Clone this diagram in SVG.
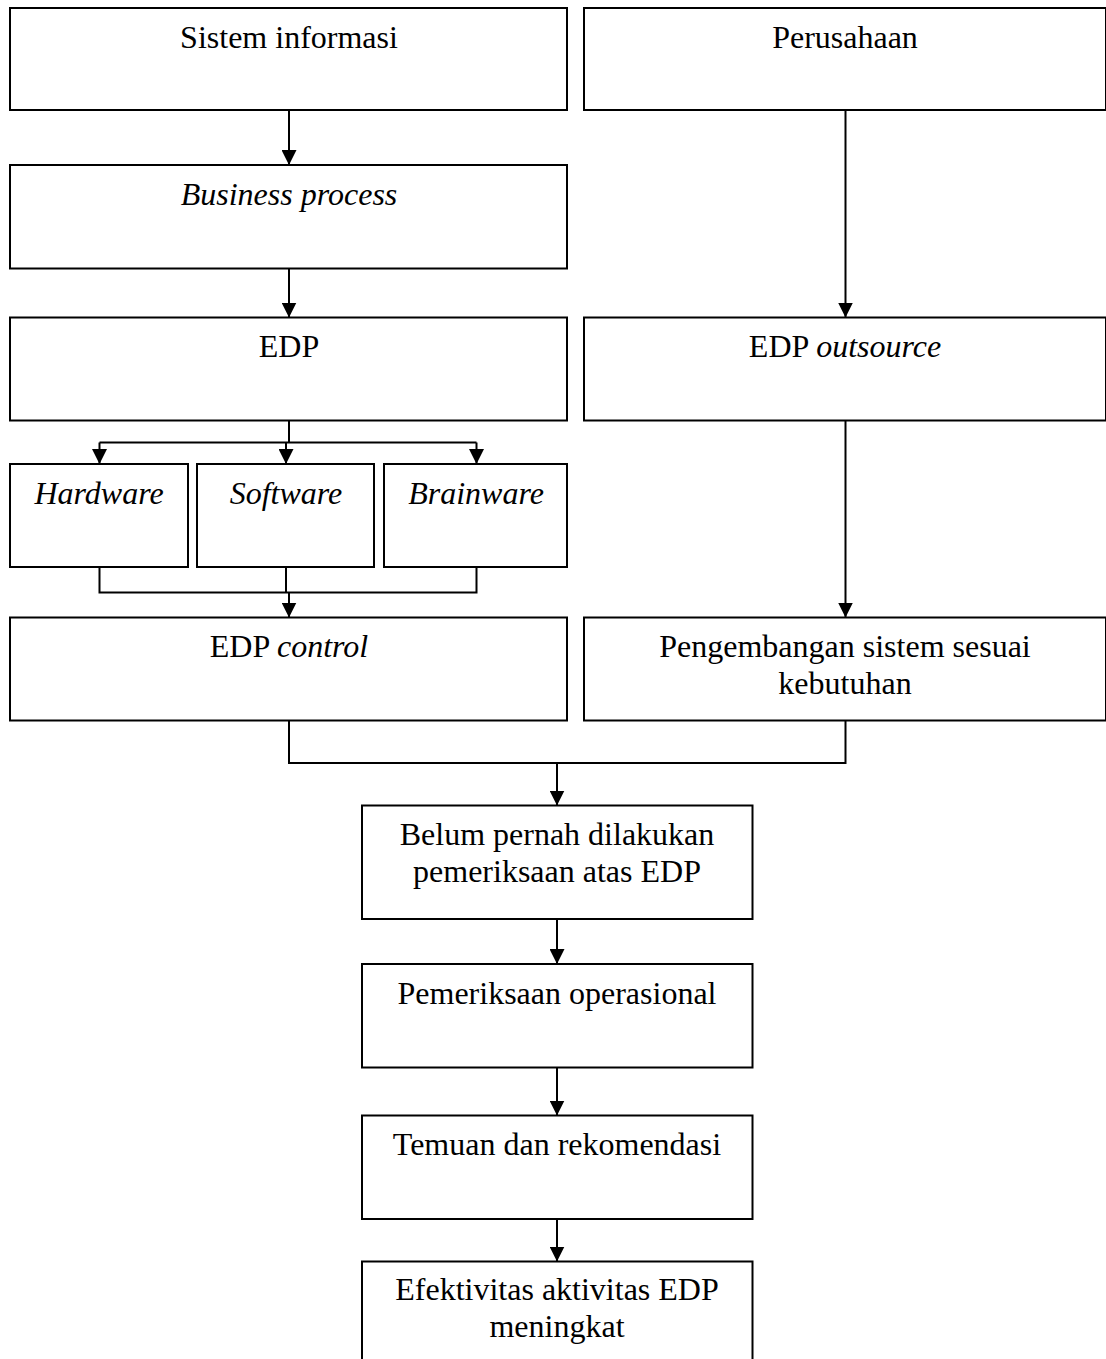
<svg xmlns="http://www.w3.org/2000/svg" width="1106" height="1359" viewBox="0 0 1106 1359">
<style>
.box{fill:#fff;stroke:#000;stroke-width:2}
.t{font-family:"Liberation Serif","Times New Roman",serif;font-size:32px;fill:#000;text-anchor:middle}
.i{font-style:italic}
.c{fill:none;stroke:#000;stroke-width:2}
</style>
<defs>
<marker id="ah" markerUnits="userSpaceOnUse" markerWidth="15" markerHeight="15" refX="15" refY="7.5" orient="auto">
<path d="M0,0 L15,7.5 L0,15 Z" fill="#000"/>
</marker>
</defs>
<rect width="1106" height="1359" fill="#fff"/>
<g id="connectors">
<path class="c" d="M289,110 V165" marker-end="url(#ah)"/>
<path class="c" d="M289,268.5 V317.5" marker-end="url(#ah)"/>
<path class="c" d="M845.5,110 V317.5" marker-end="url(#ah)"/>
<path class="c" d="M289,420.5 V442.5 M99.5,442.5 H476.5"/>
<path class="c" d="M99.5,442.5 V464" marker-end="url(#ah)"/>
<path class="c" d="M286,442.5 V464" marker-end="url(#ah)"/>
<path class="c" d="M476.5,442.5 V464" marker-end="url(#ah)"/>
<path class="c" d="M99.5,567 V592.5 H476.5 V567 M286,567 V592.5"/>
<path class="c" d="M289,592.5 V617.5" marker-end="url(#ah)"/>
<path class="c" d="M845.5,420.5 V617.5" marker-end="url(#ah)"/>
<path class="c" d="M289,720.5 V763 H845.5 V720.5"/>
<path class="c" d="M557,763 V805.5" marker-end="url(#ah)"/>
<path class="c" d="M557,919 V964" marker-end="url(#ah)"/>
<path class="c" d="M557,1067.5 V1115.5" marker-end="url(#ah)"/>
<path class="c" d="M557,1219 V1261.5" marker-end="url(#ah)"/>
</g>
<g id="sistem-informasi"><rect class="box" x="10" y="8" width="557" height="102"/><text class="t" x="289" y="48">Sistem informasi</text></g>
<g id="perusahaan"><rect class="box" x="584" y="8" width="522" height="102"/><text class="t" x="845" y="48">Perusahaan</text></g>
<g id="business-process"><rect class="box" x="10" y="165" width="557" height="103.5"/><text class="t i" x="289" y="204.5">Business process</text></g>
<g id="edp"><rect class="box" x="10" y="317.5" width="557" height="103"/><text class="t" x="289" y="357">EDP</text></g>
<g id="edp-outsource"><rect class="box" x="584" y="317.5" width="522" height="103"/><text class="t" x="845" y="357">EDP <tspan class="i">outsource</tspan></text></g>
<g id="hardware"><rect class="box" x="10" y="464" width="178" height="103"/><text class="t i" x="99" y="503.5">Hardware</text></g>
<g id="software"><rect class="box" x="197" y="464" width="177" height="103"/><text class="t i" x="286" y="503.5">Software</text></g>
<g id="brainware"><rect class="box" x="384" y="464" width="183" height="103"/><text class="t i" x="476" y="503.5">Brainware</text></g>
<g id="edp-control"><rect class="box" x="10" y="617.5" width="557" height="103"/><text class="t" x="289" y="657">EDP <tspan class="i">control</tspan></text></g>
<g id="pengembangan"><rect class="box" x="584" y="617.5" width="522" height="103"/><text class="t" x="845" y="657">Pengembangan sistem sesuai</text><text class="t" x="845" y="694">kebutuhan</text></g>
<g id="belum-pernah"><rect class="box" x="362" y="805.5" width="390.5" height="113.5"/><text class="t" x="557" y="844.5">Belum pernah dilakukan</text><text class="t" x="557" y="881.5">pemeriksaan atas EDP</text></g>
<g id="pemeriksaan"><rect class="box" x="362" y="964" width="390.5" height="103.5"/><text class="t" x="557" y="1004">Pemeriksaan operasional</text></g>
<g id="temuan"><rect class="box" x="362" y="1115.5" width="390.5" height="103.5"/><text class="t" x="557" y="1155">Temuan dan rekomendasi</text></g>
<g id="efektivitas"><rect class="box" x="362" y="1261.5" width="390.5" height="110"/><text class="t" x="557" y="1300">Efektivitas aktivitas EDP</text><text class="t" x="557" y="1337">meningkat</text></g>
</svg>
